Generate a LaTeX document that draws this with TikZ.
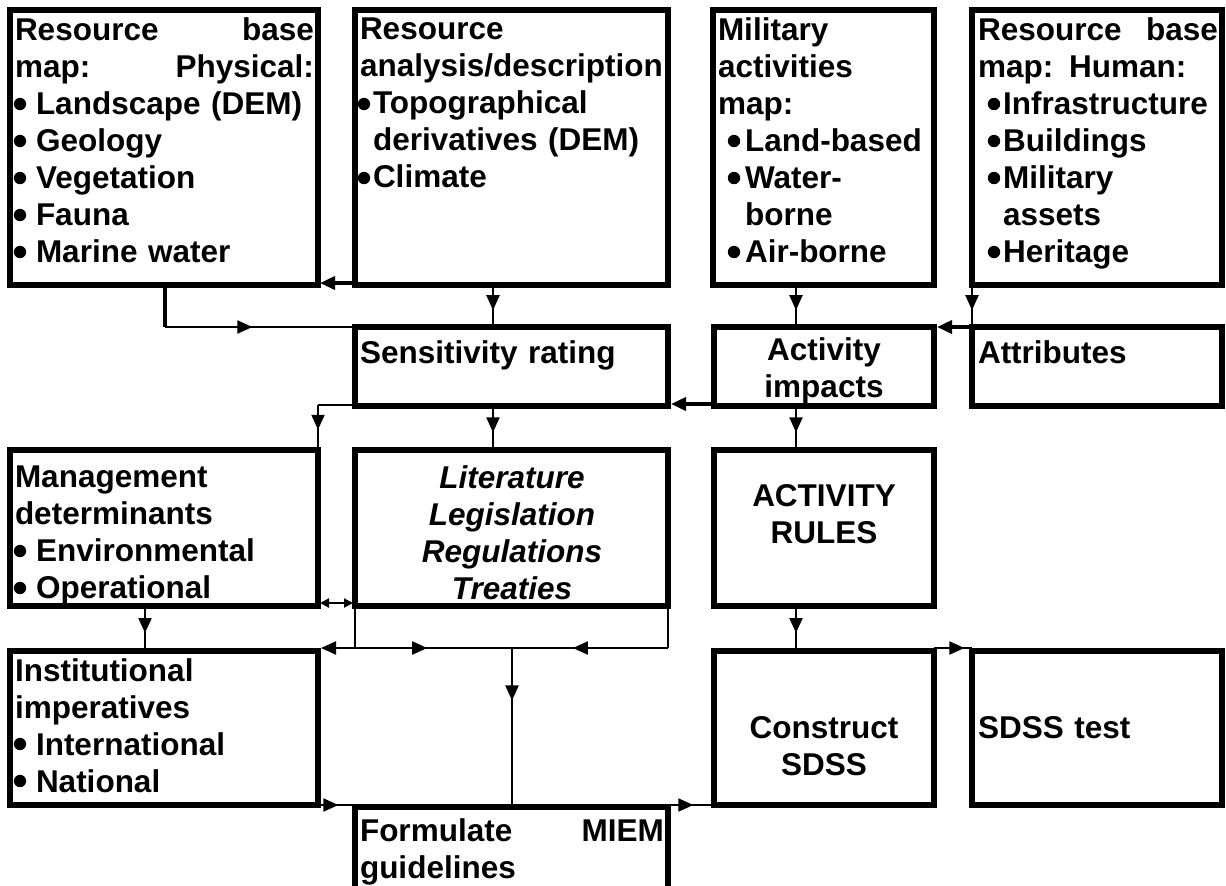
\documentclass[tikz,border=0pt]{standalone}
\usepackage{fontspec}
\setmainfont{Liberation Sans}
\usetikzlibrary{arrows.meta,decorations.markings,calc}
\newcommand\fs{\fontsize{15.75pt}{18.5pt}\selectfont\bfseries}
\newcommand\mkbox[5]{\node[bx, minimum width={(#4-#2)*0.5pt}, minimum height={(#5-#3)*0.5pt}] (#1) at ({(#2+#4)/2},{(#3+#5)/2}) {};}
\newcommand\dotat[2]{\fill (#1,#2) circle[radius=3.1pt];}
\begin{document}
\begin{tikzpicture}[x=0.5pt,y=-0.5pt,
  bx/.style={draw, line width=3pt, inner sep=0pt, outer sep=0pt},
  tx/.style={inner sep=0pt, outer sep=0pt, anchor=north west, font=\fs, align=left},
  tc/.style={inner sep=0pt, outer sep=0pt, anchor=north, font=\fs, align=center},
  ln/.style={line width=1pt},
  thk/.style={line width=1.8pt},
  tri/.tip={Triangle[length=7.5pt,width=6.5pt]},
  smtri/.tip={Triangle[length=4.5pt,width=4.5pt]},
  marr/.style={postaction={decorate}, decoration={markings, mark=at position #1 with {\arrow{tri}}}}
]
\fill[white] (0,0) rectangle (1226,885);
\clip (0,0) rectangle (1226,885);
% boxes
\mkbox{b1}{10}{10}{318}{285}
\mkbox{b2}{355}{10}{668}{285}
\mkbox{b3}{713}{10}{934}{285}
\mkbox{b4}{972}{10}{1222}{285}
\mkbox{sens}{355}{327}{668}{406}
\mkbox{act}{714}{327}{934}{406}
\mkbox{attr}{972}{327}{1222}{406}
\mkbox{mgmt}{10}{450}{318}{606}
\mkbox{lit}{355}{450}{668}{606}
\mkbox{rules}{714}{450}{934}{606}
\mkbox{inst}{10}{651}{318}{805}
\mkbox{cons}{714}{651}{934}{805}
\mkbox{sdss}{972}{651}{1222}{805}
\mkbox{form}{355}{807}{668}{905}
% texts
\node[tx, text width=149.5pt] (t1) at (15,18) {Resource\hfill base\\map:\hfill Physical:\\\hspace*{10.5pt}Landscape (DEM)\\\hspace*{10.5pt}Geology\\\hspace*{10.5pt}Vegetation\\\hspace*{10.5pt}Fauna\\\hspace*{10.5pt}Marine water};
\node[tx, text width=153pt] (t2) at (360,18) {Resource\\analysis/description\\\hspace*{6.5pt}Topographical\\\hspace*{6.5pt}derivatives (DEM)\\\hspace*{6.5pt}Climate};
\node[tx, text width=106pt] (t3) at (718,18) {Military\\activities\\map:\\\hspace*{13.5pt}Land-based\\\hspace*{13.5pt}Water-\\\hspace*{13.5pt}borne\\\hspace*{13.5pt}Air-borne};
\node[tx, text width=120pt] (t4) at (978,18) {Resource\hfill base\\map: Human:\\\hspace*{12.5pt}Infrastructure\\\hspace*{12.5pt}Buildings\\\hspace*{12.5pt}Military\\\hspace*{12.5pt}assets\\\hspace*{12.5pt}Heritage};
\node[tx, text width=152pt] (t5) at (360,341) {Sensitivity rating};
\node[tc, text width=106pt] (t6) at (824,338) {Activity\\impacts};
\node[tx, text width=120pt] (t7) at (978,341) {Attributes};
\node[tx, text width=149.5pt] (t8) at (15,466) {Management\\determinants\\\hspace*{10.5pt}Environmental\\\hspace*{10.5pt}Operational};
\node[tc, text width=152pt] (t9) at (512,466) {\itshape Literature\\\itshape Legislation\\\itshape Regulations\\\itshape Treaties};
\node[tc, text width=106pt] (t10) at (824,484) {ACTIVITY\\RULES};
\node[tx, text width=149.5pt] (t11) at (15,659) {Institutional\\imperatives\\\hspace*{10.5pt}International\\\hspace*{10.5pt}National};
\node[tc, text width=106pt] (t12) at (824,716) {Construct\\SDSS};
\node[tx, text width=120pt] (t13) at (978,716) {SDSS test};
\node[tx, text width=152pt] (t14) at (360,819) {Formulate\hfill MIEM\\guidelines};
% bullets
\foreach \yy in {104,141,178,215,252} {\dotat{20}{\yy}}
\foreach \yy in {104,178} {\dotat{364}{\yy}}
\foreach \yy in {141,178,252} {\dotat{734}{\yy}}
\foreach \yy in {104,141,178,252} {\dotat{994}{\yy}}
\foreach \yy in {551,588,744,781} {\dotat{20}{\yy}}
% coordinates
\coordinate (xa) at (493,0);
\coordinate (xb) at (796,0);
\coordinate (xc) at (145,0);
\coordinate (xd) at (165,327);
\coordinate (c7) at (318,405);
\coordinate (h) at (512,648);
% connectors
\draw[thk,-tri] ($(b2.south west)+(0,-2)$) -- ($(b1.south east)+(2,-2)$);
\draw[thk] (b1.south -| xd) -- (xd);
\draw[ln, marr=0.46] (xd) -- (sens.north west);
\draw[ln, marr=0.6] (b2.south -| xa) -- (sens.north -| xa);
\draw[ln, marr=0.6] (b3.south -| xb) -- (act.north -| xb);
\draw[ln, marr=0.6] (b4.south west) -- (attr.north west);
\draw[thk,-tri] (attr.north west) -- ($(act.north east)+(3,0)$);
\draw[thk,-tri] ($(act.south west)+(0,-2)$) -- ($(sens.south east)+(3,-2)$);
\draw[ln] (c7 -| sens.west) -- (c7);
\draw[ln, marr=0.55] (c7) -- (mgmt.north east);
\draw[ln, marr=0.6] (sens.south -| xa) -- (lit.north -| xa);
\draw[ln, marr=0.6] (act.south -| xb) -- (rules.north -| xb);
\draw[ln, smtri-smtri] ($(mgmt.south east)+(2,-3)$) -- ($(lit.south west)+(-2,-3)$);
\draw[ln, marr=0.6] (mgmt.south -| xc) -- (inst.north -| xc);
\draw[ln] (lit.south west) -- (lit.south west |- h);
\draw[ln, marr=0.46] (lit.south west |- h) -- (h);
\draw[ln, -tri] (lit.south west |- h) -- ($(inst.north east |- h)+(3,0)$);
\draw[ln] (lit.south east) -- (lit.south east |- h);
\draw[ln, marr=0.61] (lit.south east |- h) -- (h);
\draw[ln, marr=0.33] (h) -- (form.north -| h);
\draw[ln, marr=0.55] (inst.south east) -- (inst.south east -| form.west);
\draw[ln, marr=0.55] (cons.south west -| form.east) -- (cons.south west);
\draw[ln, marr=0.6] (rules.south -| xb) -- (cons.north -| xb);
\draw[ln, marr=0.8] ($(cons.north east)+(0,-3)$) -- ($(sdss.north west)+(0,-3)$);
\end{tikzpicture}
\end{document}
